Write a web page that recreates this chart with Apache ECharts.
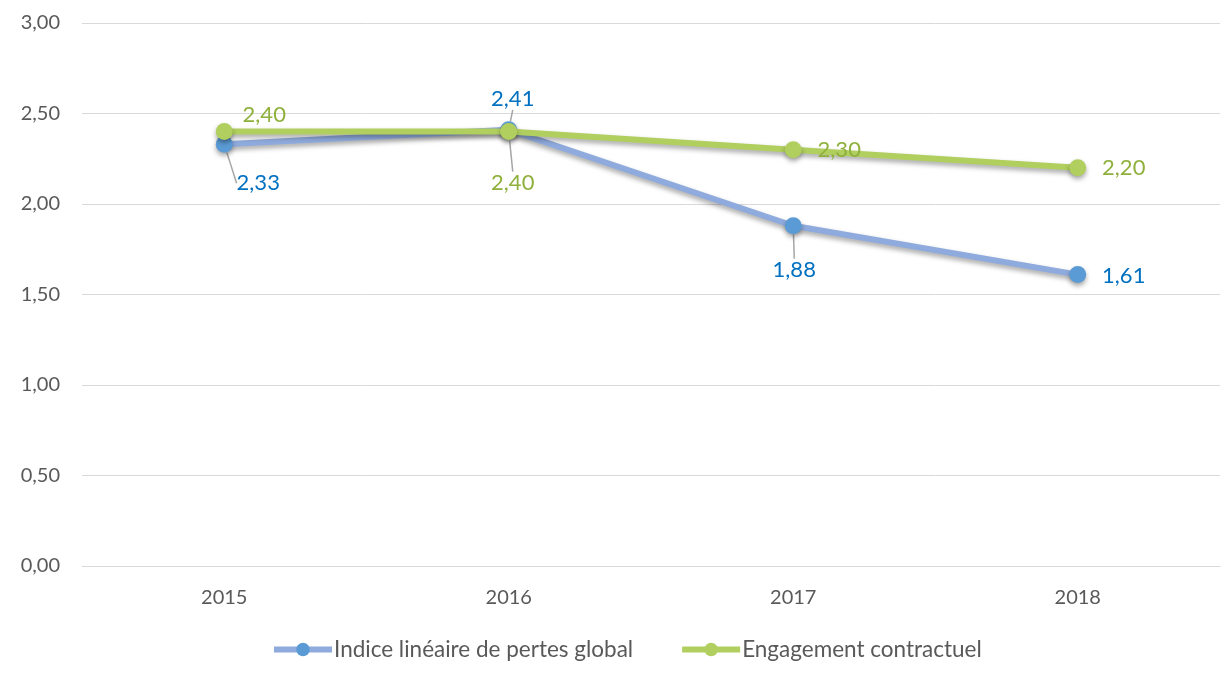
<!DOCTYPE html>
<html>
<head>
<meta charset="utf-8">
<script src="https://cdn.jsdelivr.net/npm/echarts@6/dist/echarts.min.js"></script>
<style>
    html, body { margin: 0; padding: 0; background: #fff; }
    #chart { width: 1224px; height: 683px; }
</style>
</head>
<body>
<div id="chart"></div>
<script>
const years = ["2015", "2016", "2017", "2018"]
const indiceValues = [2.33, 2.41, 1.88, 1.61]
const engagementValues = [2.40, 2.40, 2.30, 2.20]
const yTicks = [0, 0.5, 1, 1.5, 2, 2.5, 3]

// décalage des étiquettes (dx, dy) et ligne de repère
const indiceLabelMove = [[34, 39, true], [4, -31, true], [1, 44, true], [46, 1, false]]
const engagementLabelMove = [[40, -17, false], [4, 51, true], [46, 0, false], [46, 0, false]]

const fmt = v => v.toFixed(2).replace(".", ",")

const chart = echarts.init(document.getElementById("chart"), null, {renderer: "canvas"})

const textFont = "Lato, 'Open Sans', sans-serif"

function buildData(values, moves) {
    return values.map((v, i) => ({
        value: v,
        labelLine: {show: moves[i][2]}
    }))
}

const option = {
    animation: false,
    grid: {
        left: 82,
        right: 4,
        top: 23,
        bottom: 117
    },
    legend: {
        bottom: 17,
        left: 266,
        itemWidth: 58,
        itemHeight: 17,
        itemGap: 46,
        textStyle: {
            color: "#595959",
            fontSize: 22.5,
            fontFamily: textFont,
            padding: [0, 0, 0, -3]
        },
        data: [
            {
                name: "Indice linéaire de pertes global",
                lineStyle: {width: 6}
            },
            {
                name: "Engagement contractuel",
                lineStyle: {width: 6}
            }
        ]
    },
    xAxis: {
        type: "category",
        data: years,
        boundaryGap: true,
        axisLine: {lineStyle: {color: "#d9d9d9", width: 1}},
        axisTick: {show: false},
        axisLabel: {
            color: "#595959",
            fontSize: 20,
            fontFamily: textFont,
            margin: 22
        }
    },
    yAxis: {
        type: "value",
        min: yTicks[0],
        max: yTicks[yTicks.length - 1],
        interval: 0.5,
        axisLine: {show: false},
        axisTick: {show: false},
        splitLine: {lineStyle: {color: "#d9d9d9", width: 1}},
        axisLabel: {
            color: "#595959",
            fontSize: 20,
            fontFamily: textFont,
            margin: 22,
            formatter: v => fmt(v)
        }
    },
    series: [
        {
            name: "Indice linéaire de pertes global",
            type: "line",
            data: buildData(indiceValues, indiceLabelMove),
            symbol: "circle",
            symbolSize: 17,
            z: 2,
            lineStyle: {
                color: "#8faadc",
                width: 6,
                shadowColor: "rgba(0,0,0,0.35)",
                shadowBlur: 5,
                shadowOffsetY: 3
            },
            itemStyle: {
                color: "#5b9bd5",
                shadowColor: "rgba(0,0,0,0.35)",
                shadowBlur: 5,
                shadowOffsetY: 3
            },
            label: {
                show: true,
                position: "inside",
                color: "#0070c0",
                fontSize: 22,
                fontFamily: textFont,
                formatter: p => fmt(p.value)
            },
            labelLine: {
                lineStyle: {color: "#a6a6a6", width: 1.5}
            },
            labelLayout: p => ({
                dx: indiceLabelMove[p.dataIndex][0],
                dy: indiceLabelMove[p.dataIndex][1]
            })
        },
        {
            name: "Engagement contractuel",
            type: "line",
            data: buildData(engagementValues, engagementLabelMove),
            symbol: "circle",
            symbolSize: 17,
            z: 3,
            lineStyle: {
                color: "#b0cf5f",
                width: 6,
                shadowColor: "rgba(0,0,0,0.35)",
                shadowBlur: 5,
                shadowOffsetY: 3
            },
            itemStyle: {
                color: "#b0cf5f",
                shadowColor: "rgba(0,0,0,0.35)",
                shadowBlur: 5,
                shadowOffsetY: 3
            },
            label: {
                show: true,
                position: "inside",
                color: "#8fb03c",
                fontSize: 22,
                fontFamily: textFont,
                formatter: p => fmt(p.value)
            },
            labelLine: {
                lineStyle: {color: "#a6a6a6", width: 1.5}
            },
            labelLayout: p => ({
                dx: engagementLabelMove[p.dataIndex][0],
                dy: engagementLabelMove[p.dataIndex][1]
            })
        }
    ]
}

chart.setOption(option)
</script>
</body>
</html>
